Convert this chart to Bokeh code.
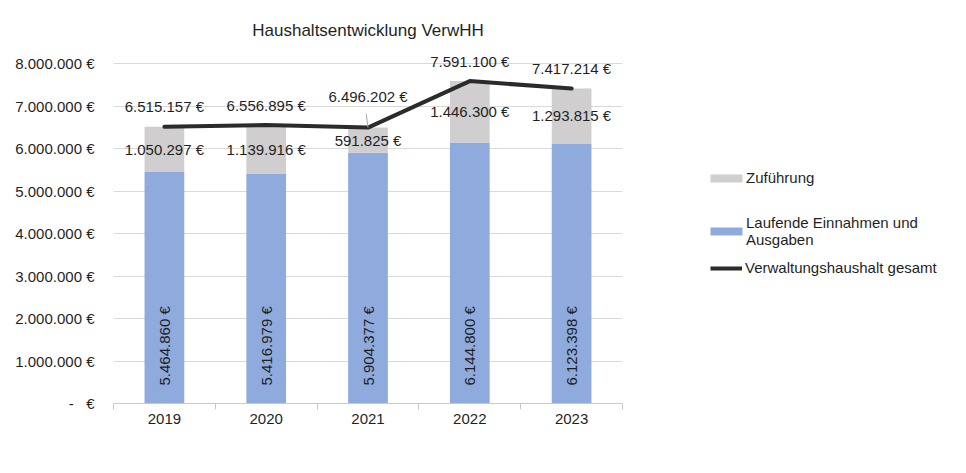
import math
from bokeh.plotting import figure
from bokeh.layouts import row
from bokeh.models import ColumnDataSource, FixedTicker, LabelSet, Legend, LegendItem
from bokeh.core.properties import value
from bokeh.embed import file_html
from bokeh.resources import INLINE

# ---- data ----
years = ["2019", "2020", "2021", "2022", "2023"]
laufend = [5464860, 5416979, 5904377, 6144800, 6123398]
zufuehrung = [1050297, 1139916, 591825, 1446300, 1293815]
gesamt = [6515157, 6556895, 6496202, 7591100, 7417214]
y_ticks = [0, 1000000, 2000000, 3000000, 4000000, 5000000, 6000000, 7000000, 8000000]
y_tick_labels = ["-\u00a0\u00a0\u00a0€", "1.000.000 €", "2.000.000 €", "3.000.000 €",
                 "4.000.000 €", "5.000.000 €", "6.000.000 €", "7.000.000 €", "8.000.000 €"]
series_names = ["Zuführung", "Laufende Einnahmen und\nAusgaben", "Verwaltungshaushalt gesamt"]


def eur(v):
    return f"{v:,}".replace(",", ".") + " €"


FONT = "Liberation Sans"
TXT = "#1f1f1f"
BLUE = "#8faadc"
GRAY = "#d0cece"
LINE = "#2b2b2b"

xs = list(range(1, len(years) + 1))
src = ColumnDataSource(dict(
    x=xs,
    base=[0] * len(xs),
    laufend=laufend,
    top=[a + b for a, b in zip(laufend, zufuehrung)],
    mid=[a + b / 2 for a, b in zip(laufend, zufuehrung)],
    gesamt=gesamt,
    lab_lauf=[eur(v) for v in laufend],
    lab_zuf=[eur(v) for v in zufuehrung],
    lab_ges=[eur(v) for v in gesamt],
    lift=[20, 20, 31, 20, 20],
))

p = figure(width=630, height=465, output_backend="svg", toolbar_location=None,
           x_range=(0.5, len(xs) + 0.5), y_range=(0, 8500000),
           min_border_left=113, min_border_right=8, min_border_top=42, min_border_bottom=62,
           title="Haushaltsentwicklung VerwHH")
p.outline_line_color = None
p.title.align = "center"
p.title.text_font = FONT
p.title.text_font_size = "17px"
p.title.text_font_style = "normal"
p.title.text_color = TXT
p.title.standoff = 5
p.title.offset = 6

p.xgrid.grid_line_color = None
p.ygrid.grid_line_color = "#d9d9d9"
p.ygrid.ticker = FixedTicker(ticks=y_ticks)

# y axis
p.yaxis.ticker = FixedTicker(ticks=y_ticks)
p.yaxis.major_label_overrides = {t: l for t, l in zip(y_ticks, y_tick_labels)}
p.yaxis.axis_line_color = None
p.yaxis.major_tick_line_color = None
p.yaxis.minor_tick_line_color = None
p.yaxis.major_tick_out = 0
p.yaxis.major_label_standoff = 19
p.yaxis.major_label_text_font = FONT
p.yaxis.major_label_text_font_size = "15px"
p.yaxis.major_label_text_color = TXT

# x axis
p.xaxis.ticker = FixedTicker(ticks=xs, minor_ticks=[x - 0.5 for x in xs] + [xs[-1] + 0.5])
p.xaxis.major_label_overrides = {x: y for x, y in zip(xs, years)}
p.xaxis.axis_line_color = "#c8c8c8"
p.xaxis.major_tick_line_color = None
p.xaxis.major_tick_out = 0
p.xaxis.major_tick_in = 0
p.xaxis.minor_tick_line_color = "#c8c8c8"
p.xaxis.minor_tick_out = 6
p.xaxis.minor_tick_in = 0
p.xaxis.major_label_standoff = 4
p.xaxis.major_label_text_font = FONT
p.xaxis.major_label_text_font_size = "15px"
p.xaxis.major_label_text_color = TXT

# bars
p.vbar(x="x", bottom="base", top="laufend", width=0.39, source=src,
       fill_color=BLUE, line_color=None)
p.vbar(x="x", bottom="laufend", top="top", width=0.39, source=src,
       fill_color=GRAY, line_color=None)

# total line
p.line(x="x", y="gesamt", source=src, line_color=LINE, line_width=4, line_cap="round")

# leader line for 2021 label
p.ray(x=[xs[2]], y=[gesamt[2]], length=14, length_units="screen", angle=math.pi / 2 + 0.13,
      line_color="#a6a6a6", line_width=1)

common = dict(source=src, text_font=value(FONT), text_font_size=value("15px"), text_color=TXT)
p.add_layout(LabelSet(x="x", y="gesamt", text="lab_ges", y_offset="lift",
                      text_align="center", text_baseline="middle", **common))
p.add_layout(LabelSet(x="x", y="mid", text="lab_zuf",
                      text_align="center", text_baseline="middle", **common))
p.add_layout(LabelSet(x="x", y="base", text="lab_lauf", y_offset=18, angle=math.pi / 2,
                      text_align="left", text_baseline="middle", **common))

# ---- legend panel (separate figure so the legend is not clipped by the chart frame) ----
q = figure(width=328, height=465, output_backend="svg", toolbar_location=None,
           x_range=(0, 1), y_range=(0, 1), min_border=0)
q.axis.visible = False
q.grid.visible = False
q.outline_line_color = None
# proxy renderers that only serve as legend swatches (their single point lies outside the view)
lg_gray = q.vbar(x=[5], top=[5], bottom=[4], width=1, fill_color=GRAY, line_color=None)
lg_blue = q.vbar(x=[5], top=[5], bottom=[4], width=1, fill_color=BLUE, line_color=None)
lg_line = q.line(x=[5, 6], y=[5, 5], line_color=LINE, line_width=4)


def mk_legend(label, rend, loc, gw, gh, standoff, lh):
    lg = Legend(items=[LegendItem(label=label, renderers=[rend])], location=loc,
                glyph_width=gw, glyph_height=gh, label_standoff=standoff, label_height=lh,
                padding=0, margin=0, spacing=0, border_line_color=None,
                background_fill_alpha=0, label_text_font=FONT, label_text_font_size="15px",
                label_text_color=TXT)
    q.add_layout(lg)


mk_legend(series_names[0], lg_gray, (76, 217), 40, 10, 0, 16)
mk_legend(series_names[1], lg_blue, (76, 155), 40, 10, 0, 16)
mk_legend(series_names[2], lg_line, (80, 127), 32, 10, 3, 16)

layout = row(p, q)
open("out.html", "w").write(file_html(layout, INLINE))
